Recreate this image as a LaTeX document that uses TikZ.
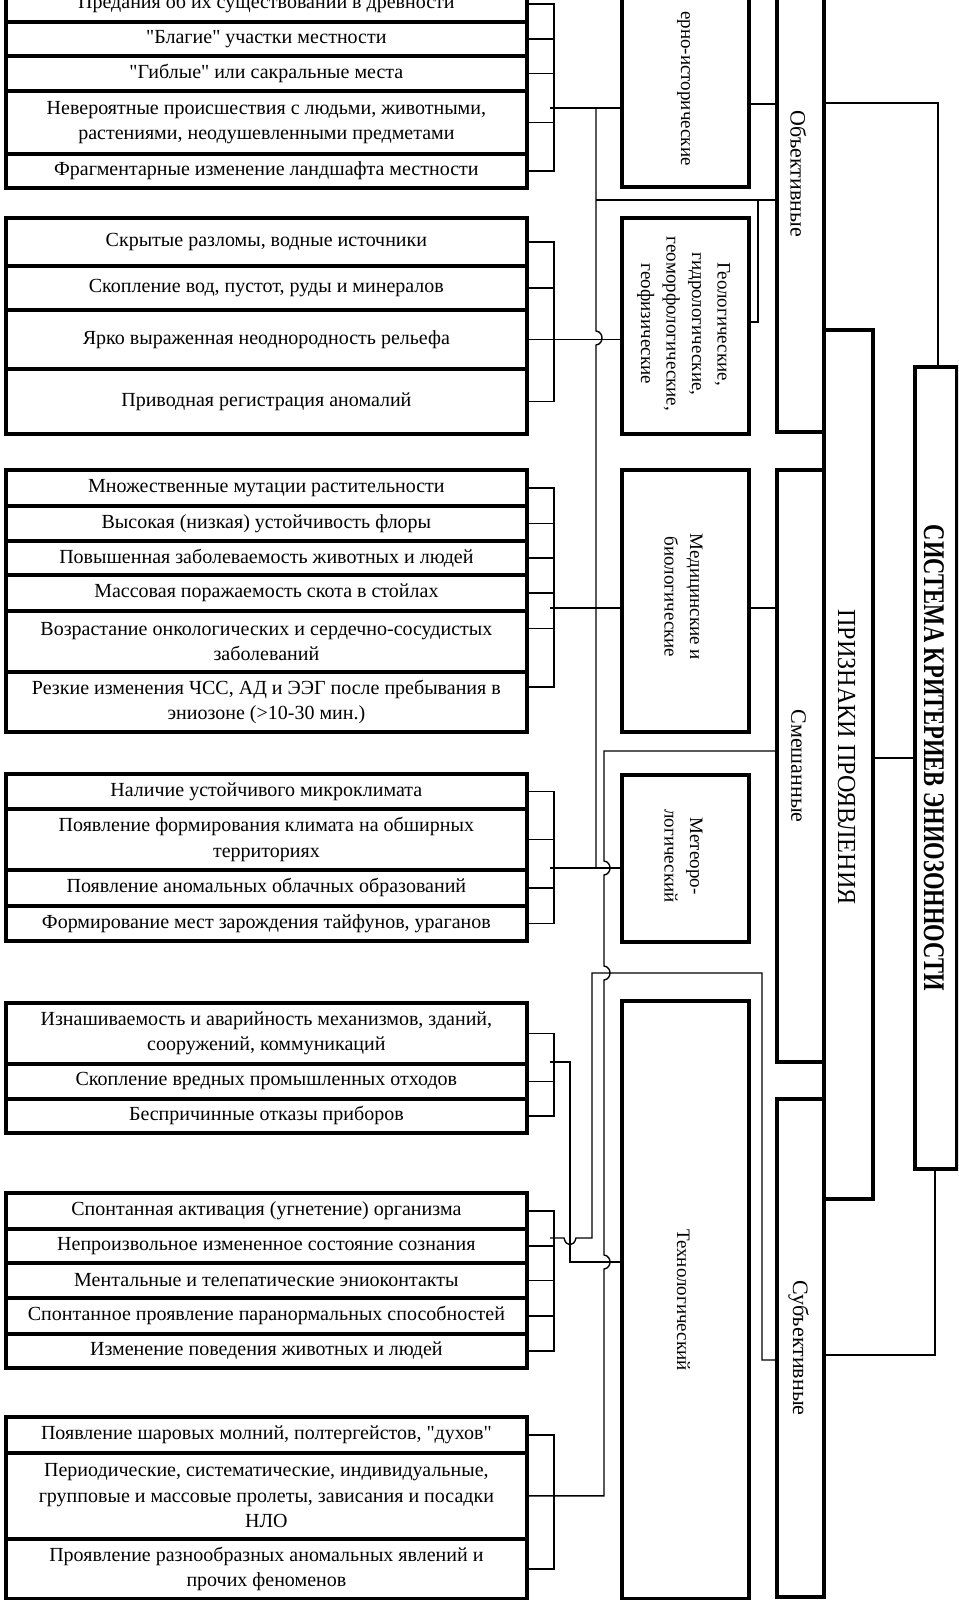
\documentclass[tikz,border=0pt]{standalone}
\usepackage{fontspec}
\usepackage{graphicx}
\setmainfont{Liberation Serif}[Ligatures=TeXOff]
\newcommand\lfont{\fontsize{20}{25.5}\selectfont}
\newcommand\cfont{\fontsize{19}{25.5}\selectfont}
\newcommand\kfont{\fontsize{22}{26}\selectfont}
\newcommand\pfont{\fontsize{26}{28}\selectfont}
\newcommand\sfont{\fontsize{30}{32}\selectfont\bfseries}
\begin{document}
\begin{tikzpicture}[x=1pt,y=-1pt,
  box/.style={draw, line width=3.8pt, anchor=north west, inner sep=0pt},
  lrow/.style={box, minimum width=521pt, align=center, font=\lfont},
  vtext/.style={rotate=-90, inner sep=0pt, align=center},
  conn/.style={line width=1.4pt},
  ]
\useasboundingbox (0,0) rectangle (958,1600);
\begin{scope}
\clip (0,0) rectangle (958,1600);
% ---------- group 1
\node[lrow, minimum height=36] (g1r1) at (4,-16) {Предания об их существовании в древности};
\node[lrow, minimum height=34] (g1r2) at (4,20) {"Благие" участки местности};
\node[lrow, minimum height=35] (g1r3) at (4,54) {"Гиблые" или сакральные места};
\node[lrow, minimum height=63] (g1r4) at (4,89) {Невероятные происшествия с людьми, животными,\\растениями, неодушевленными предметами};
\node[lrow, minimum height=34] (g1r5) at (4,152) {Фрагментарные изменение ландшафта местности};
% ---------- group 2
\node[lrow, minimum height=48] (g2r1) at (4,216) {Скрытые разломы, водные источники};
\node[lrow, minimum height=44] (g2r2) at (4,264) {Скопление вод, пустот, руды и минералов};
\node[lrow, minimum height=59] (g2r3) at (4,308) {Ярко выраженная неоднородность рельефа};
\node[lrow, minimum height=65] (g2r4) at (4,367) {Приводная регистрация аномалий};
% ---------- group 3
\node[lrow, minimum height=36] (g3r1) at (4,468) {Множественные мутации растительности};
\node[lrow, minimum height=35] (g3r2) at (4,504) {Высокая (низкая) устойчивость флоры};
\node[lrow, minimum height=34] (g3r3) at (4,539) {Повышенная заболеваемость животных и людей};
\node[lrow, minimum height=36] (g3r4) at (4,573) {Массовая поражаемость скота в стойлах};
\node[lrow, minimum height=61] (g3r5) at (4,609) {Возрастание онкологических и сердечно-сосудистых\\заболеваний};
\node[lrow, minimum height=60] (g3r6) at (4,670) {Резкие изменения ЧСС, АД и ЭЭГ после пребывания в\\эниозоне (>10-30 мин.)};
% ---------- group 4
\node[lrow, minimum height=35] (g4r1) at (4,772) {Наличие устойчивого микроклимата};
\node[lrow, minimum height=61] (g4r2) at (4,807) {Появление формирования климата на обширных\\территориях};
\node[lrow, minimum height=36] (g4r3) at (4,868) {Появление аномальных облачных образований};
\node[lrow, minimum height=35] (g4r4) at (4,904) {Формирование мест зарождения тайфунов, ураганов};
% ---------- group 5
\node[lrow, minimum height=61] (g5r1) at (4,1001) {Изнашиваемость и аварийность механизмов, зданий,\\сооружений, коммуникаций};
\node[lrow, minimum height=35] (g5r2) at (4,1062) {Скопление вредных промышленных отходов};
\node[lrow, minimum height=34] (g5r3) at (4,1097) {Беспричинные отказы приборов};
% ---------- group 6
\node[lrow, minimum height=36] (g6r1) at (4,1191) {Спонтанная активация (угнетение) организма};
\node[lrow, minimum height=34] (g6r2) at (4,1227) {Непроизвольное измененное состояние сознания};
\node[lrow, minimum height=35] (g6r3) at (4,1261) {Ментальные и телепатические эниоконтакты};
\node[lrow, minimum height=36] (g6r4) at (4,1296) {Спонтанное проявление паранормальных способностей};
\node[lrow, minimum height=34] (g6r5) at (4,1332) {Изменение поведения животных и людей};
% ---------- group 7
\node[lrow, minimum height=36] (g7r1) at (4,1415) {Появление шаровых молний, полтергейстов, "духов"};
\node[lrow, minimum height=86] (g7r2) at (4,1451) {Периодические, систематические, индивидуальные,\\групповые и массовые пролеты, зависания и посадки\\НЛО};
\node[lrow, minimum height=60] (g7r3) at (4,1537) {Проявление разнообразных аномальных явлений и\\прочих феноменов};
% ---------- category boxes
\node[box, minimum width=127, minimum height=215] (cat1) at (620,-30) {};
\node[box, minimum width=127, minimum height=216] (cat2) at (620,216) {};
\node[box, minimum width=127, minimum height=262] (cat3) at (620,468) {};
\node[box, minimum width=127, minimum height=167] (cat4) at (620,773) {};
\node[box, minimum width=127, minimum height=598] (cat5) at (620,999) {};
\node[vtext, font=\cfont, anchor=east] (cat1t) at (683.5,166) {ерно-исторические};
\node[vtext, font=\cfont] (cat2t) at (683.5,324) {Геологические,\\гидрологические,\\геоморфологические,\\геофизические};
\node[vtext, font=\cfont] (cat3t) at (683.5,597) {Медицинские и\\биологические};
\node[vtext, font=\cfont] (cat4t) at (683.5,856) {Метеоро-\\логический};
\node[vtext, font=\cfont] (cat5t) at (683.5,1300) {Технологический};
% ---------- column boxes
\node[box, minimum width=47, minimum height=460] (obj) at (775,-30) {};
\node[box, minimum width=47, minimum height=592] (mix) at (775,468) {};
\node[box, minimum width=47, minimum height=498] (subj) at (775,1097) {};
\node[box, minimum width=49, minimum height=869] (priz) at (822,328) {};
\node[box, minimum width=42, minimum height=802] (sys) at (913,365) {};
\node[vtext, font=\kfont] (objt) at (798.5,174) {Объективные};
\node[vtext, font=\kfont] (mixt) at (798.5,766) {Смешанные};
\node[vtext, font=\kfont] (subjt) at (798.5,1348) {Субъективные};
\node[vtext, font=\pfont] (prizt) at (846.5,757) {\scalebox{0.93}[1]{ПРИЗНАКИ ПРОЯВЛЕНИЯ}};
\node[vtext, font=\sfont] (syst) at (934,758) {\scalebox{0.75}[1]{СИСТЕМА КРИТЕРИЕВ ЭНИОЗОННОСТИ}};
% ---------- brackets of the lists
\draw[conn] (g1r1.east) -- ++(25,0) |- (g1r5.east);
\foreach \r in {g1r2,g1r3,g1r4} \draw[conn] (\r.east) -- ++(25,0);
\draw[conn] (g2r1.east) -- ++(25,0) |- (g2r4.east);
\draw[conn] (g2r2.east) -- ++(25,0);
\draw[conn] (g3r1.east) -- ++(25,0) -- ++(0,199) -- ++(-25,0);
\foreach \r in {g3r2,g3r3,g3r4} \draw[conn] (\r.east) -- ++(25,0);
\draw[conn] (g3r5.east) ++(0,-13) -- ++(25,0);
\draw[conn] (g4r1.east) -- ++(25,0) |- (g4r4.east);
\foreach \r in {g4r2,g4r3} \draw[conn] (\r.east) -- ++(25,0);
\draw[conn] (g5r1.east) -- ++(25,0) |- (g5r3.east);
\draw[conn] (g5r2.east) -- ++(25,0);
\draw[conn] (g6r1.east) -- ++(25,0) |- (g6r5.east);
\foreach \r in {g6r2,g6r3,g6r4} \draw[conn] (\r.east) -- ++(25,0);
\draw[conn] (g7r1.east) -- ++(25,0) |- (g7r3.east);
% ---------- junction coordinates
\coordinate (o1) at (550,108);
\coordinate (o3) at (550,608);
\coordinate (o4) at (550,868);
\coordinate (o5) at (550,1062);
\coordinate (o6) at (550,1238);
\coordinate (h200) at (596,200);
\coordinate (c2) at (758,322);
\coordinate (r1) at (747,104);
\coordinate (b0) at (604,751);
\coordinate (e1) at (570,1262);
\coordinate (d0) at (592,973);
\coordinate (d1) at (762,1360);
\coordinate (s1) at (938,103);
\coordinate (s2) at (935,1355);
\coordinate (p1) at (871,758);
% ---------- lists to categories
\draw[conn] (o1) -- (o1 -| cat1.west);
\draw[conn] (g2r3.east) -- (g2r3.east -| cat2.west);
\draw[conn] (o3) -- (o3 -| cat3.west);
\draw[conn] (o4) -- (o4 -| cat4.west);
\draw[conn] (o5) -- (e1 |- o5) -- (e1) -- (e1 -| cat5.west);
% vertical A (with a hop over group 2 line)
\draw[conn] (596,108) -- (596,331) .. controls (604,332) and (604,344) .. (596,345) -- (596,868);
\draw[conn] (h200) -- (h200 -| obj.west);
% vertical B to Смешанные
\draw[conn] (b0 -| mix.west) -- (b0) -- (604,861) .. controls (612,862) and (612,874) .. (604,875)
  -- (604,966) .. controls (612,967) and (612,979) .. (604,980)
  -- (604,1255) .. controls (612,1256) and (612,1268) .. (604,1269) |- (g7r2.east);
% group 6 to Субъективные
\draw[conn] (o6) -- (564,1238) .. controls (566,1247) and (574,1247) .. (576,1238) -- (d0 |- o6) -- (d0) -- (d1 |- d0) -- (d1) -- (d1 -| subj.west);
% ---------- categories to columns
\draw[conn] (r1) -- (r1 -| obj.west);
\draw[conn] (c2 -| cat2.east) -- (c2) -- (c2 |- h200);
\draw[conn] (cat3.east |- o3) -- (o3 -| mix.west);
% ---------- columns to system
\draw[conn] (s1 -| obj.east) -- (s1) -- (s1 |- sys.north);
\draw[conn] (p1 -| priz.east) -- (p1 -| sys.west);
\draw[conn] (s2 |- sys.south) -- (s2) -- (s2 -| subj.east);
\end{scope}
\end{tikzpicture}
\end{document}
